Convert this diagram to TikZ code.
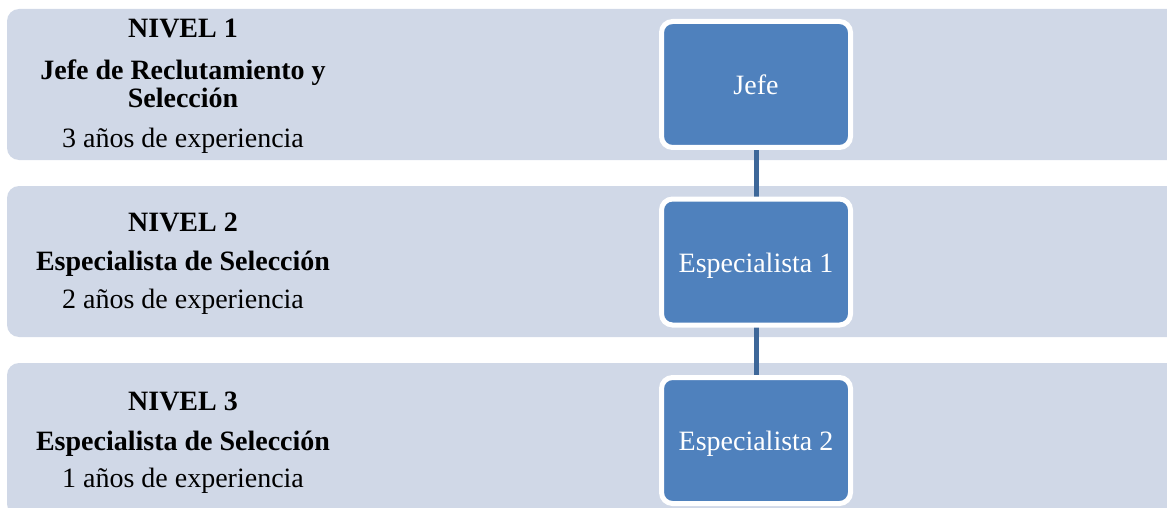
\documentclass[tikz,border=0pt]{standalone}
\usepackage{fontspec}
\setmainfont{Liberation Serif}
\definecolor{bandfill}{HTML}{D0D8E7}
\definecolor{boxfill}{HTML}{4F81BD}
\definecolor{linkcol}{HTML}{3D6799}
\pgfdeclarelayer{bands}
\pgfdeclarelayer{links}
\pgfsetlayers{bands,links,main}
\begin{document}
\begin{tikzpicture}[x=1pt,y=-1pt,
  band/.style={fill=bandfill, rounded corners=12pt},
  rolebox/.style={draw=white, line width=5pt, fill=boxfill, rounded corners=11pt,
    minimum width=189pt, minimum height=126pt, inner sep=0pt, text=white,
    text height=20pt, text depth=0pt,
    font=\fontsize{28}{34}\selectfont},
  title/.style={anchor=base, inner sep=0pt, font=\fontsize{28}{34}\selectfont\bfseries},
  note/.style={anchor=base, inner sep=0pt, font=\fontsize{28}{34}\selectfont},
  link/.style={draw=linkcol, line width=5pt}]
\useasboundingbox (0,0) rectangle (1167,508);
\clip (0,0) rectangle (1167,508);

% level bands
\begin{pgfonlayer}{bands}
  \fill[band] (7,9) rectangle (1200,160);
  \fill[band] (7,186) rectangle (1200,337);
  \fill[band] (7,363) rectangle (1200,516);
\end{pgfonlayer}

% level descriptions
\node[title] (t1) at (183,38) {NIVEL 1};
\node[title] (r1a) at (183,80) {Jefe de Reclutamiento y};
\node[title] (r1b) at (183,108) {Selección};
\node[note]  (e1) at (183,147) {3 años de experiencia};

\node[title] (t2) at (183,231) {NIVEL 2};
\node[title] (r2) at (183,270) {Especialista de Selección};
\node[note]  (e2) at (183,308) {2 años de experiencia};

\node[title] (t3) at (183,410) {NIVEL 3};
\node[title] (r3) at (183,450) {Especialista de Selección};
\node[note]  (e3) at (183,487) {1 años de experiencia};

% positions
\node[rolebox] (jefe) at (756,84.5) {Jefe};
\node[rolebox] (esp1) at (756,262) {Especialista 1};
\node[rolebox] (esp2) at (756,440.5) {Especialista 2};

% reporting lines
\begin{pgfonlayer}{links}
  \draw[link] (jefe.center) -- (esp1.center);
  \draw[link] (esp1.center) -- (esp2.center);
\end{pgfonlayer}
\end{tikzpicture}
\end{document}
